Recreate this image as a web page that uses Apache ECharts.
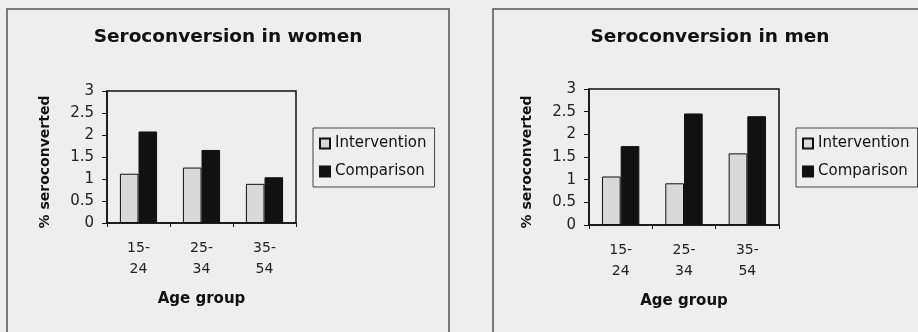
<!DOCTYPE html>
<html>
<head>
<meta charset="utf-8">
<script src="https://cdn.jsdelivr.net/npm/echarts@6/dist/echarts.min.js"></script>
<style>
html,body{margin:0;padding:0;background:#eeeeee;}
#c{width:918px;height:332px;}
</style>
</head>
<body>
<div id="c"></div>
<script>
const categories = ['15-24', '25-34', '35-54'];
const seriesNames = ['Intervention', 'Comparison'];
const womenIntervention = [1.12, 1.26, 0.89];
const womenComparison = [2.08, 1.66, 1.04];
const menIntervention = [1.07, 0.92, 1.58];
const menComparison = [1.74, 2.46, 2.40];
const yTicks = { min: 0, max: 3, interval: 0.5 };
const titles = ['Seroconversion in women', 'Seroconversion in men'];
const yName = '% seroconverted';
const xName = 'Age group';

const FONT = 'DejaVu Sans';
const chart = echarts.init(document.getElementById('c'));

function xAxis(gi) {
  return {
    type: 'category', gridIndex: gi, data: categories,
    name: xName, nameLocation: 'middle', nameGap: 69,
    nameTextStyle: { fontFamily: FONT, fontWeight: 'bold', fontSize: 15, color: '#111' },
    axisLine: { lineStyle: { color: '#111', width: 1.5 } },
    axisTick: { show: true, length: 4, lineStyle: { color: '#111' } },
    axisLabel: { fontFamily: FONT, fontSize: 14, color: '#222', lineHeight: 21, margin: 15,
      formatter: v => v.replace('-', '-\n') }
  };
}
function yAxis(gi) {
  return {
    type: 'value', gridIndex: gi, min: yTicks.min, max: yTicks.max, interval: yTicks.interval,
    name: yName, nameLocation: 'middle', nameGap: 55, nameRotate: 90,
    nameTextStyle: { fontFamily: FONT, fontWeight: 'bold', fontSize: 14, color: '#111', padding: [0, 10, 0, 0] },
    axisLine: { show: true, lineStyle: { color: '#111', width: 1.5 } },
    axisTick: { show: true, length: 5, lineStyle: { color: '#111' } },
    splitLine: { show: false },
    axisLabel: { fontFamily: FONT, fontSize: 15, color: '#222', margin: 13 }
  };
}
function bar(name, data, gi, color) {
  return {
    type: 'bar', name: name, data: data, xAxisIndex: gi, yAxisIndex: gi,
    barGap: '0%', barCategoryGap: '41%',
    itemStyle: { color: color, borderColor: '#111', borderWidth: 1 }
  };
}
function legend(left) {
  return {
    data: seriesNames, orient: 'vertical', left: left, top: 128, icon: 'rect',
    padding: [8, 8, 8, 6], itemGap: 13, itemWidth: 10, itemHeight: 10,
    borderColor: '#444', borderWidth: 1,
    textStyle: { fontFamily: FONT, fontSize: 15, color: '#111' }
  };
}

const option = {
  backgroundColor: '#eeeeee',
  animation: false,
  graphic: [
    { type: 'rect', shape: { x: 7, y: 9, width: 442, height: 340 }, style: { fill: 'none', stroke: '#555', lineWidth: 1.5 } },
    { type: 'rect', shape: { x: 493, y: 9, width: 440, height: 340 }, style: { fill: 'none', stroke: '#555', lineWidth: 1.5 } }
  ],
  title: [
    { text: titles[0], left: 228, top: 28, textAlign: 'center', padding: 0,
      textStyle: { fontFamily: FONT, fontWeight: 'bold', fontSize: 18.5, color: '#111' } },
    { text: titles[1], left: 710, top: 28, textAlign: 'center', padding: 0,
      textStyle: { fontFamily: FONT, fontWeight: 'bold', fontSize: 18.5, color: '#111' } }
  ],
  legend: [ legend(313), legend(796) ],
  grid: [
    { left: 107, top: 91, width: 189, height: 132, show: true, borderColor: '#111', borderWidth: 1.5, backgroundColor: 'transparent' },
    { left: 589, top: 89, width: 190, height: 136, show: true, borderColor: '#111', borderWidth: 1.5, backgroundColor: 'transparent' }
  ],
  xAxis: [xAxis(0), xAxis(1)],
  yAxis: [yAxis(0), yAxis(1)],
  series: [
    bar(seriesNames[0], womenIntervention, 0, '#d9d9d9'),
    bar(seriesNames[1], womenComparison, 0, '#111111'),
    bar(seriesNames[0], menIntervention, 1, '#d9d9d9'),
    bar(seriesNames[1], menComparison, 1, '#111111')
  ]
};
chart.setOption(option);
</script>
</body>
</html>
